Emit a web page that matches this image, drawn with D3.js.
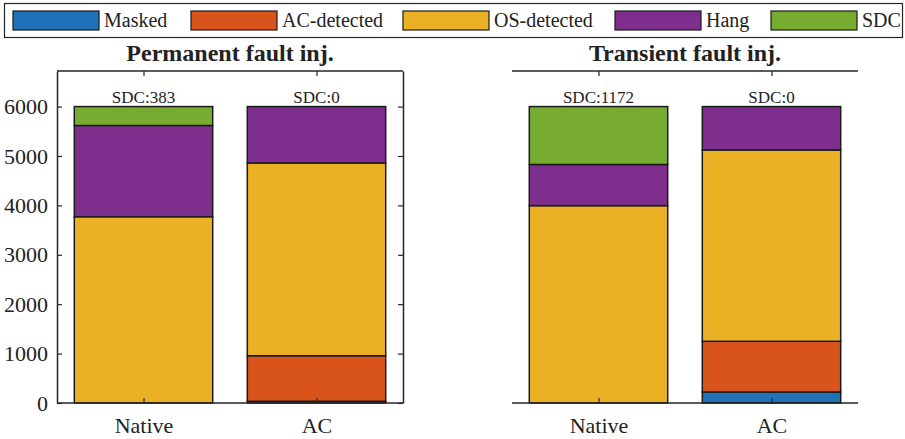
<!DOCTYPE html>
<html>
<head>
<meta charset="utf-8">
<script src="https://cdn.jsdelivr.net/npm/d3@7"></script>
<style>
  html, body { margin: 0; padding: 0; background: #fff; }
  svg text { font-family: "Liberation Serif", "Times New Roman", serif; fill: #222; }
</style>
</head>
<body>
<svg id="chart" width="905" height="439"></svg>
<script>
// Outcome categories of the fault-injection campaigns
const categories = ["Native", "AC"];
const seriesNames = ["Masked", "AC-detected", "OS-detected", "Hang", "SDC"];
const seriesColors = ["#1f72b8", "#d9541b", "#ebb124", "#7e2f8e", "#77ac30"];

// Counts per outcome (one array per outcome, entries follow categories)
const permanentMasked = [0, 35];
const permanentACDetected = [0, 922];
const permanentOSDetected = [3771, 3901];
const permanentHang = [1846, 1142];
const permanentSDC = [383, 0];

const transientMasked = [0, 223];
const transientACDetected = [0, 1026];
const transientOSDetected = [3995, 3872];
const transientHang = [833, 879];
const transientSDC = [1172, 0];

const panelTitles = ["Permanent fault inj.", "Transient fault inj."];
const yTicks = [0, 1000, 2000, 3000, 4000, 5000, 6000];
const yMax = 6720;

const serif = "Liberation Serif, Times New Roman, serif";

const panels = [
  { title: panelTitles[0], left: 57, right: 403, showY: true,
    series: [permanentMasked, permanentACDetected, permanentOSDetected, permanentHang, permanentSDC] },
  { title: panelTitles[1], left: 512, right: 858, showY: false,
    series: [transientMasked, transientACDetected, transientOSDetected, transientHang, transientSDC] }
];

const svg = d3.select("#chart");
const plotTop = 71, plotBottom = 403;
const y = d3.scaleLinear().domain([0, yMax]).range([plotBottom, plotTop]);
const axisColor = "#262626";
const tickLen = 5;

function styleAxis(g) {
  g.attr("font-family", serif);
  g.selectAll("path.domain").attr("stroke", axisColor).attr("stroke-width", 1.5);
  g.selectAll(".tick line").attr("stroke", axisColor).attr("stroke-width", 1.2);
  g.selectAll(".tick text").attr("font-family", serif).attr("fill", "#222");
}

panels.forEach(p => {
  const x = d3.scaleBand().domain(categories).range([p.left, p.right]).paddingInner(0.2).paddingOuter(0.1);
  const xc = d3.scalePoint().domain(categories).range([p.left, p.right]).padding(0.5);

  // stacked layout: build rows of {category, outcome counts}
  const rows = categories.map((c, i) => {
    const r = { category: c };
    seriesNames.forEach((s, k) => { r[s] = p.series[k][i]; });
    return r;
  });
  const stacked = d3.stack().keys(seriesNames)(rows);

  const g = svg.append("g");
  stacked.forEach((layer, k) => {
    g.selectAll(null).data(layer.filter(d => d[1] - d[0] > 0)).enter().append("rect")
      .attr("x", d => x(d.data.category))
      .attr("width", x.bandwidth())
      .attr("y", d => y(d[1]))
      .attr("height", d => y(d[0]) - y(d[1]))
      .attr("fill", seriesColors[k])
      .attr("stroke", "#1a1a1a")
      .attr("stroke-width", 1.5);
  });

  // SDC count above each bar
  rows.forEach(r => {
    const total = d3.sum(seriesNames, s => r[s]);
    g.append("text")
      .attr("x", xc(r.category))
      .attr("y", y(total) - 4)
      .attr("text-anchor", "middle")
      .attr("font-family", serif)
      .attr("font-size", 17)
      .text("SDC:" + r["SDC"]);
  });

  // Axes: ticks point inward
  const bottomAxis = d3.axisBottom(xc).tickSizeInner(-tickLen).tickSizeOuter(0).tickPadding(14);
  const gb = svg.append("g").attr("transform", `translate(0,${plotBottom})`).call(bottomAxis);
  gb.selectAll(".tick text").attr("font-size", 22);
  gb.select("path.domain").attr("d", `M${p.left},0H${p.right}`);
  styleAxis(gb);

  const topAxis = d3.axisTop(xc).tickSizeInner(-tickLen).tickSizeOuter(0).tickFormat("");
  const gt = svg.append("g").attr("transform", `translate(0,${plotTop})`).call(topAxis);
  gt.select("path.domain").attr("d", `M${p.left},0H${p.right}`);
  styleAxis(gt);

  if (p.showY) {
    const leftAxis = d3.axisLeft(y).tickValues(yTicks).tickFormat(d3.format("d"))
      .tickSizeInner(-tickLen).tickSizeOuter(0).tickPadding(9);
    const gl = svg.append("g").attr("transform", `translate(${p.left},0)`).call(leftAxis);
    gl.selectAll(".tick text").attr("font-size", 22);
    styleAxis(gl);

    const rightAxis = d3.axisRight(y).tickValues(yTicks).tickSizeInner(-tickLen).tickSizeOuter(0).tickFormat("");
    const gr = svg.append("g").attr("transform", `translate(${p.right},0)`).call(rightAxis);
    styleAxis(gr);
  }

  svg.append("text")
    .attr("x", (p.left + p.right) / 2)
    .attr("y", 61)
    .attr("text-anchor", "middle")
    .attr("font-family", serif)
    .attr("font-size", 24)
    .attr("font-weight", "bold")
    .attr("fill", "#111")
    .text(p.title);
});

// Legend across the top
const legend = svg.append("g");
legend.append("rect")
  .attr("x", 4.5).attr("y", 3.5).attr("width", 898).attr("height", 34)
  .attr("fill", "#fff").attr("stroke", "#262626").attr("stroke-width", 1.2);
const legendX = [13, 191, 403, 615, 771];
seriesNames.forEach((s, k) => {
  legend.append("rect")
    .attr("x", legendX[k]).attr("y", 11).attr("width", 86).attr("height", 19)
    .attr("fill", seriesColors[k]).attr("stroke", "#1a1a1a").attr("stroke-width", 1.2);
  legend.append("text")
    .attr("x", legendX[k] + 91).attr("y", 27)
    .attr("font-family", serif)
    .attr("font-size", 20)
    .text(s);
});
</script>
</body>
</html>
